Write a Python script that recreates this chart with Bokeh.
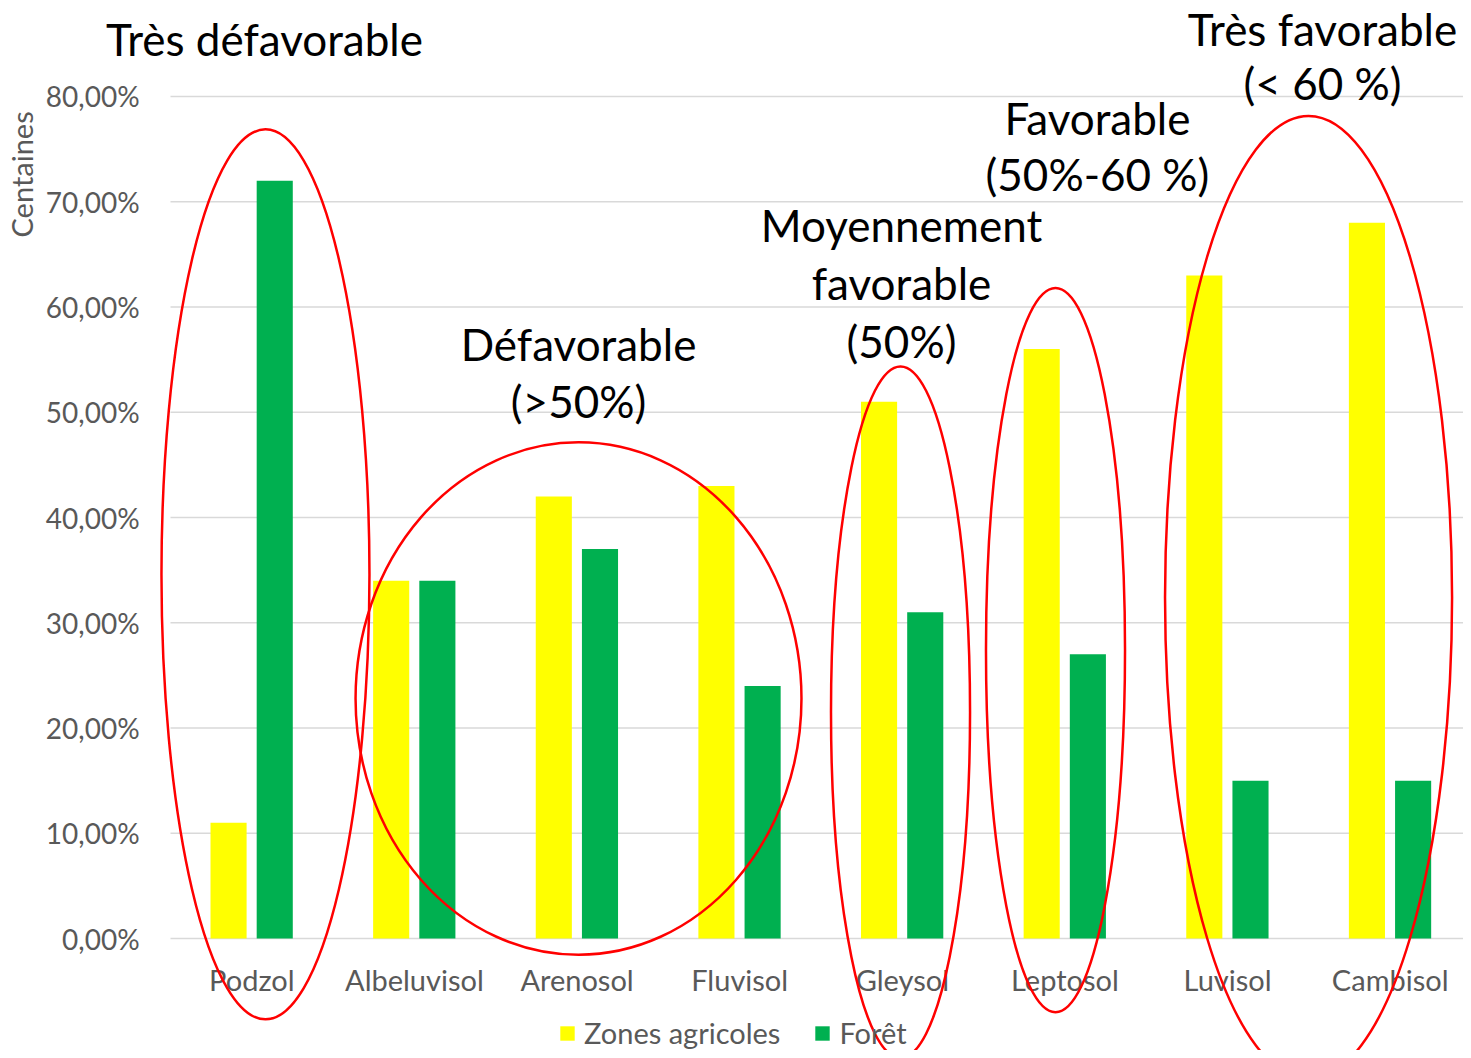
import math
from bokeh.plotting import figure
from bokeh.models import Legend, LegendItem, ColumnDataSource
from bokeh.core.properties import value
from bokeh.embed import file_html
from bokeh.resources import INLINE

# ---- data ----
categories = ["Podzol", "Albeluvisol", "Arenosol", "Fluvisol", "Gleysol", "Leptosol", "Luvisol", "Cambisol"]
zones_agricoles = [11, 34, 42, 43, 51, 56, 63, 68]   # percent
foret = [72, 34, 37, 24, 31, 27, 15, 15]              # percent
y_ticks = [0, 10, 20, 30, 40, 50, 60, 70, 80]
y_tick_labels = ["0,00%", "10,00%", "20,00%", "30,00%", "40,00%", "50,00%", "60,00%", "70,00%", "80,00%"]
series_names = ["Zones agricoles", "Forêt"]
series_colors = ["#FFFF00", "#00B050"]
y_title = "Centaines"

# annotation texts (lines) and ellipse groups in data units (category index space, percent)
annot_text = ["Très défavorable", "Défavorable", "(>50%)", "Moyennement", "favorable", "(50%)",
              "Favorable", "(50%-60 %)", "Très favorable", "(< 60 %)"]
annot_x = [0.578, 2.509, 2.509, 4.495, 4.495, 4.495, 5.700, 5.700, 7.084, 7.084]
annot_y = [85.5, 56.5, 51.1, 67.8, 62.3, 56.8, 78.0, 72.6, 86.45, 81.3]
ell_x = [0.584, 2.509, 4.489, 5.442, 6.998]
ell_y = [34.6, 22.8, 21.5, 27.4, 32.4]
ell_w = [1.279, 2.742, 0.855, 0.855, 1.765]
ell_h = [84.6, 48.7, 65.7, 68.8, 91.5]

W, H = 1463, 1050
FONT = "Lato"
GREY = "#595959"
n = len(categories)

# the plotting frame covers the whole canvas so that the annotations and ellipses
# (which run past the axes in the original) are not clipped
p = figure(width=W, height=H, output_backend="svg", toolbar_location=None,
           x_range=(-1.0453, 7.9508), y_range=(-10.64, 89.12),
           x_axis_location=None, y_axis_location=None,
           min_border_left=0, min_border_right=0, min_border_top=0, min_border_bottom=0)
p.outline_line_color = None
p.background_fill_color = "white"
p.xgrid.visible = False
p.ygrid.visible = False

# gridlines from x=0 to the right edge
p.segment(x0=[0] * len(y_ticks), x1=[n + 0.2] * len(y_ticks), y0=y_ticks, y1=y_ticks,
          line_color="#D9D9D9", line_width=1.5)

# y tick labels and axis title
p.text(x=[-0.19] * len(y_ticks), y=y_ticks, text=y_tick_labels, text_font=value(FONT),
       text_font_size="28px", text_color=GREY, text_align="right", text_baseline="middle")
p.text(x=[-0.915], y=[72.6], text=[y_title], angle=math.pi / 2, text_font=value(FONT),
       text_font_size="29px", text_color=GREY, text_align="center", text_baseline="middle")

# bars
centers = [i + 0.5 for i in range(n)]
bw = 0.222
src = ColumnDataSource(dict(
    xa=[c - 0.143 for c in centers], xf=[c + 0.141 for c in centers],
    za=zones_agricoles, fo=foret))
r1 = p.vbar(x="xa", top="za", bottom=0, width=bw, source=src,
            fill_color=series_colors[0], line_color=None)
r2 = p.vbar(x="xf", top="fo", bottom=0, width=bw, source=src,
            fill_color=series_colors[1], line_color=None)

# category labels
p.text(x=centers, y=[-3.9] * n, text=categories, text_font=value(FONT),
       text_font_size="29px", text_color=GREY, text_align="center", text_baseline="middle")

# ellipses
p.ellipse(x=ell_x, y=ell_y, width=ell_w, height=ell_h, fill_color=None,
          line_color="#FF0000", line_width=2.5)

# annotations
p.text(x=annot_x, y=annot_y, text=annot_text, text_font=value(FONT),
       text_font_size="44px", text_color="black", text_align="center", text_baseline="middle")

legend = Legend(items=[LegendItem(label=series_names[0], renderers=[r1]),
                       LegendItem(label=series_names[1], renderers=[r2])],
                orientation="horizontal", location=(558, 0),
                glyph_width=18, glyph_height=18, label_standoff=8, spacing=33,
                padding=0, margin=0, border_line_color=None, background_fill_alpha=0,
                label_text_font=FONT, label_text_font_size="29px", label_text_color=GREY)
p.add_layout(legend)

open("out.html", "w").write(file_html(p, INLINE))
